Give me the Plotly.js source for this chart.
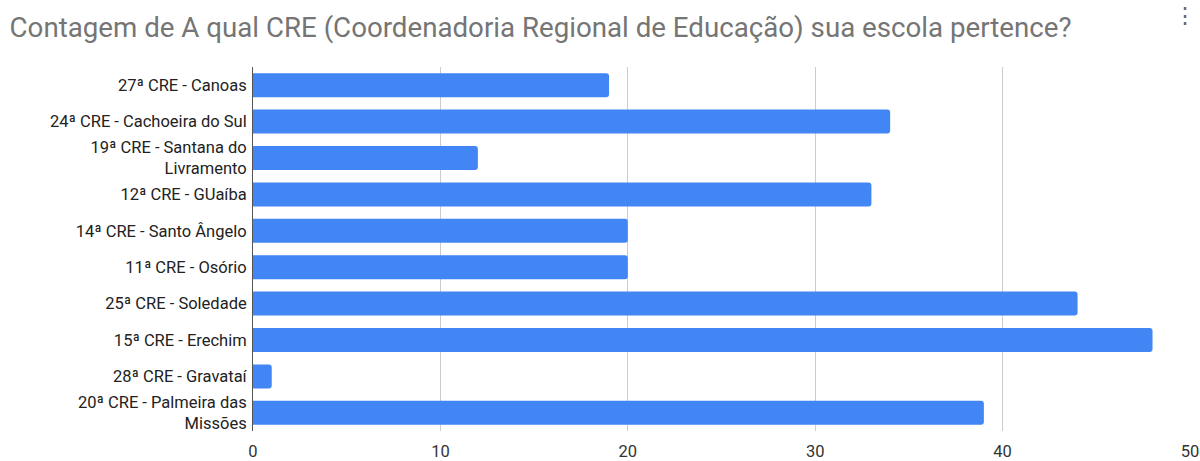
<!DOCTYPE html>
<html>
<head>
<meta charset="utf-8">
<script src="https://cdn.plot.ly/plotly-3.0.1.min.js"></script>
<style>html,body{margin:0;padding:0;background:#fff;}#chart{width:1200px;height:461px;}</style>
</head>
<body>
<div id="chart"></div>
<script>
const categories = [
  "27ª CRE - Canoas",
  "24ª CRE - Cachoeira do Sul",
  "19ª CRE - Santana do<br>Livramento",
  "12ª CRE - GUaíba",
  "14ª CRE - Santo Ângelo",
  "11ª CRE - Osório",
  "25ª CRE - Soledade",
  "15ª CRE - Erechim",
  "28ª CRE - Gravataí",
  "20ª CRE - Palmeira das<br>Missões"
];
const counts = [19, 34, 12, 33, 20, 20, 44, 48, 1, 39];
const xTicks = [0, 10, 20, 30, 40, 50];
const titleText = "Contagem de A qual CRE (Coordenadoria Regional de Educação) sua escola pertence?";

const trace = {
  type: 'bar',
  orientation: 'h',
  y: categories,
  x: counts,
  marker: {color: '#4285F4', cornerradius: 3},
  hoverinfo: 'x+y'
};

const layout = {
  width: 1200,
  height: 461,
  margin: {l: 253, r: 10, t: 67, b: 30},
  paper_bgcolor: '#fff',
  plot_bgcolor: '#fff',
  font: {family: 'Roboto, Arial, sans-serif', size: 16, color: '#222'},
  title: {text: titleText, x: 0.008, xanchor: 'left', y: 0.94, yanchor: 'middle',
          font: {family: 'Roboto, Arial, sans-serif', size: 27.7, color: '#757575'}},
  bargap: 0.34,
  xaxis: {
    range: [0, 50],
    tickvals: xTicks,
    ticktext: xTicks.map(String),
    showgrid: true,
    gridcolor: '#cccccc',
    gridwidth: 1,
    zeroline: false,
    showline: false,
    tickfont: {size: 16.5, color: '#333'},
    ticks: '',
    ticklabelstandoff: 8,
    fixedrange: true
  },
  yaxis: {
    autorange: 'reversed',
    showline: true,
    linecolor: '#555',
    linewidth: 1,
    ticks: '',
    ticklen: 0,
    tickfont: {size: 16.5, color: '#222'},
    ticklabelstandoff: 2,
    automargin: false,
    fixedrange: true
  },
  showlegend: false,
  annotations: [{
    text: '⋮', xref: 'paper', yref: 'paper', x: 1.0, y: 1.0, yshift: 66, xshift: 8,
    xanchor: 'right', yanchor: 'top', showarrow: false,
    font: {size: 22, color: '#666'}
  }]
};

Plotly.newPlot('chart', [trace], layout, {displayModeBar: false, responsive: false});
</script>
</body>
</html>
